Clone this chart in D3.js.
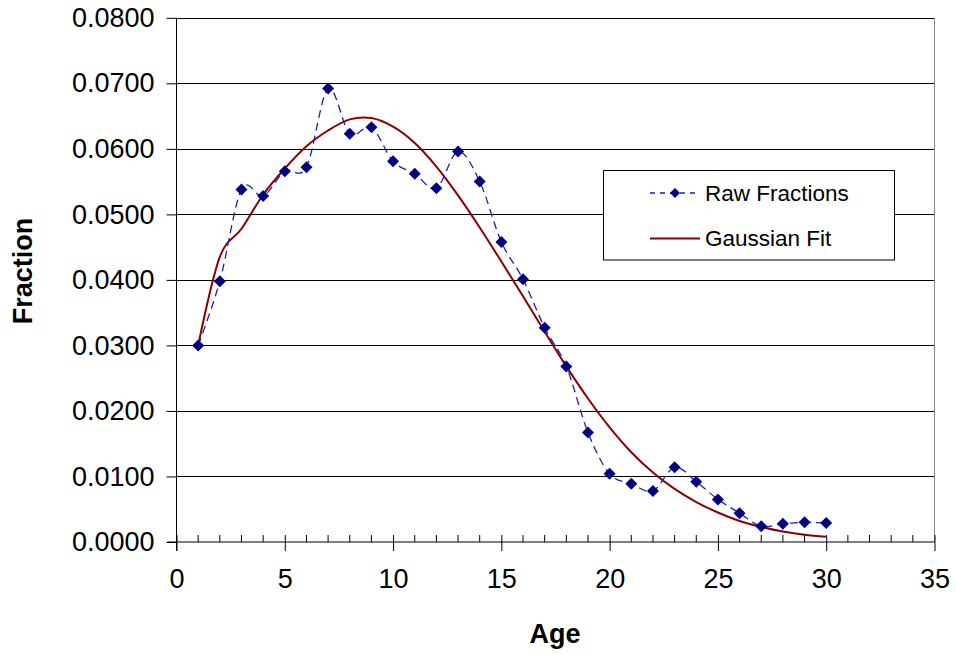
<!DOCTYPE html>
<html>
<head>
<meta charset="utf-8">
<script src="https://cdn.jsdelivr.net/npm/d3@7"></script>
<style>
  html, body { margin: 0; padding: 0; background: #fff; }
  svg { display: block; font-family: "Liberation Sans", Arial, sans-serif; }
</style>
</head>
<body>
<svg id="chart" width="956" height="655"></svg>
<script>
const ages = d3.range(1, 31);
const rawFractions = [0.0300, 0.0398, 0.0538, 0.0528, 0.0566, 0.0572, 0.0692, 0.0623, 0.0633, 0.0581,
                      0.0562, 0.0540, 0.0596, 0.0550, 0.0458, 0.0401, 0.0327, 0.0268, 0.0167, 0.0104,
                      0.0089, 0.0078, 0.0114, 0.0092, 0.0065, 0.0044, 0.0024, 0.0028, 0.0030, 0.0029];
const gaussianFit = [0.0300, 0.0435, 0.0478, 0.0530, 0.0570, 0.0604, 0.0628, 0.0645, 0.0647, 0.0634,
                     0.0609, 0.0573, 0.0529, 0.0480, 0.0428, 0.0375, 0.0321, 0.0268, 0.0219, 0.0175,
                     0.0137, 0.0106, 0.0081, 0.0061, 0.0045, 0.0032, 0.0023, 0.0016, 0.0011, 0.0008];
const xTicks = [0, 5, 10, 15, 20, 25, 30, 35];
const yTicks = [0, 0.01, 0.02, 0.03, 0.04, 0.05, 0.06, 0.07, 0.08];
const seriesNames = ["Raw Fractions", "Gaussian Fit"];

const svg = d3.select("#chart");
const L = 176.5, R = 934.5, T = 17.8, B = 542;
const x = d3.scaleLinear().domain([0, 35]).range([L, R]);
const y = d3.scaleLinear().domain([0, 0.08]).range([B, T]);

// gridlines
svg.append("g").selectAll("line").data(yTicks.filter(d => d > 0)).join("line")
  .attr("x1", L).attr("x2", R)
  .attr("y1", d => Math.round(y(d)) + 0.5).attr("y2", d => Math.round(y(d)) + 0.5)
  .attr("stroke", "#000").attr("stroke-width", 1);
// right border
svg.append("line").attr("x1", R).attr("x2", R).attr("y1", T).attr("y2", B)
  .attr("stroke", "#888").attr("stroke-width", 1);

// y axis
const yAxis = d3.axisLeft(y).tickValues(yTicks).tickFormat(d3.format(".4f")).tickSize(10).tickPadding(12);
const gy = svg.append("g").attr("transform", `translate(${L},0)`).call(yAxis);
gy.select(".domain").remove();
gy.append("line").attr("x1", 0).attr("x2", 0).attr("y1", T).attr("y2", B + 9).attr("stroke", "#000");
gy.selectAll("text").attr("font-size", 27).attr("fill", "#000").attr("font-family", "Liberation Sans, Arial, sans-serif");

// x axis minor ticks (above)
svg.append("g").selectAll("line").data(d3.range(1, 35).filter(d => d % 5 !== 0)).join("line")
  .attr("x1", d => x(d)).attr("x2", d => x(d)).attr("y1", B - 7).attr("y2", B)
  .attr("stroke", "#000");
const xAxis = d3.axisBottom(x).tickValues(xTicks).tickSize(9).tickPadding(18);
const gx = svg.append("g").attr("transform", `translate(0,${B})`).call(xAxis);
gx.select(".domain").attr("d", `M${L - 9},0H${R}`);
gx.selectAll(".tick line").attr("y1", -7);
gx.selectAll("text").attr("font-size", 27).attr("fill", "#000").attr("font-family", "Liberation Sans, Arial, sans-serif");

// Gaussian fit
const line = d3.line().curve(d3.curveCatmullRom.alpha(0));
svg.append("path")
  .attr("d", line(ages.map((a, i) => [x(a), y(gaussianFit[i])])))
  .attr("fill", "none").attr("stroke", "#8b0000").attr("stroke-width", 2);

// raw fractions
svg.append("path")
  .attr("d", line(ages.map((a, i) => [x(a), y(rawFractions[i])])))
  .attr("fill", "none").attr("stroke", "#1f1fa8").attr("stroke-width", 1.3)
  .attr("stroke-dasharray", "8,5");
const diamond = r => `M0,${-r}L${r},0L0,${r}L${-r},0Z`;
svg.append("g").selectAll("path").data(ages).join("path")
  .attr("transform", (a, i) => `translate(${x(a)},${y(rawFractions[i])})`)
  .attr("d", diamond(6)).attr("fill", "#000080");

// axis titles
svg.append("text").attr("x", 555).attr("y", 643).attr("text-anchor", "middle")
  .attr("font-size", 27).attr("font-weight", "bold").text("Age");
svg.append("text").attr("transform", "translate(32,271) rotate(-90)").attr("text-anchor", "middle")
  .attr("font-size", 27).attr("font-weight", "bold").text("Fraction");

// legend
const lg = svg.append("g");
lg.append("rect").attr("x", 603.5).attr("y", 170.5).attr("width", 291).attr("height", 89.5)
  .attr("fill", "#fff").attr("stroke", "#000").attr("stroke-width", 1);
lg.append("line").attr("x1", 650).attr("x2", 700).attr("y1", 193).attr("y2", 193)
  .attr("stroke", "#1f1fa8").attr("stroke-width", 1.3).attr("stroke-dasharray", "5,5");
lg.append("path").attr("transform", "translate(675,193)").attr("d", diamond(5)).attr("fill", "#000080");
lg.append("line").attr("x1", 650).attr("x2", 700).attr("y1", 238.5).attr("y2", 238.5)
  .attr("stroke", "#8b0000").attr("stroke-width", 2);
lg.selectAll("text.lt").data(seriesNames).join("text")
  .attr("x", 705).attr("y", (d, i) => 193 + i * 45.5).attr("dy", "0.35em")
  .attr("font-size", 22.5).attr("fill", "#000").text(d => d);
</script>
</body>
</html>
